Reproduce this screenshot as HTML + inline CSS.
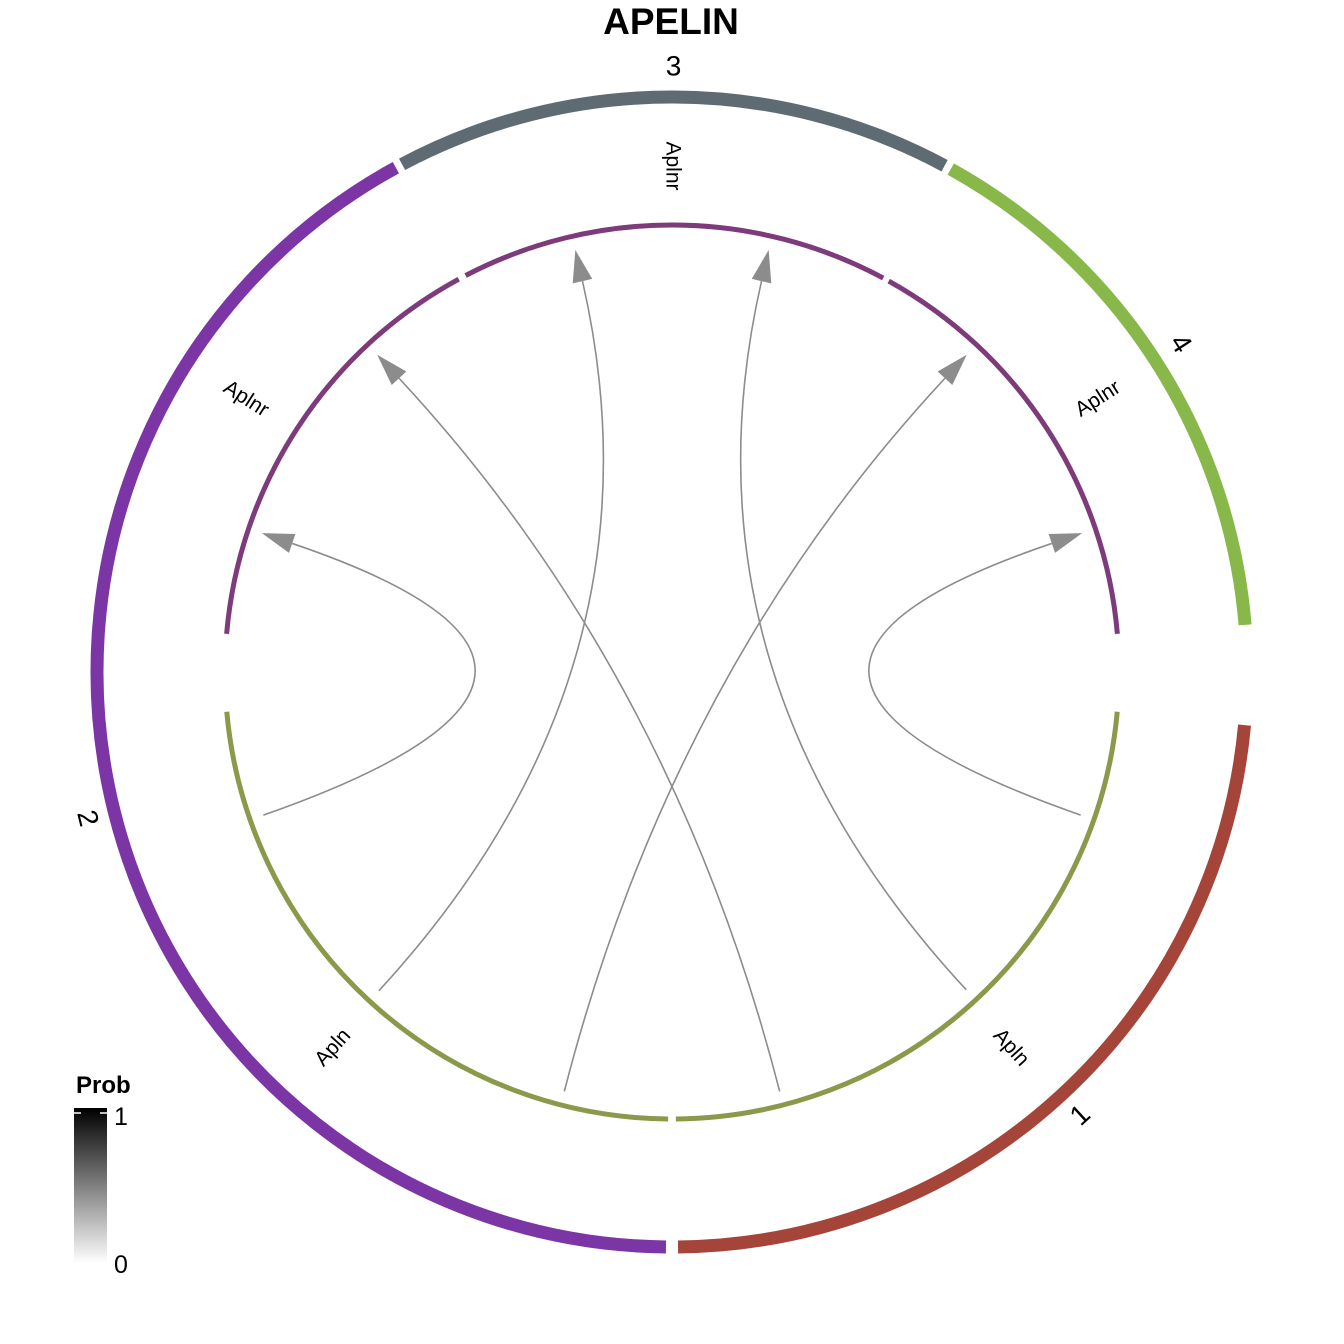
<!DOCTYPE html>
<html><head><meta charset="utf-8"><style>
body{margin:0;background:#fff}
svg{display:block;font-family:"Liberation Sans",sans-serif}
</style></head><body>
<svg id="chart" width="1344" height="1344" viewBox="0 0 1344 1344">
<defs>
<linearGradient id="pg" x1="0" y1="1" x2="0" y2="0">
<stop offset="0" stop-color="#fff"/><stop offset="1" stop-color="#000"/></linearGradient>
</defs>
<text x="671" y="34" text-anchor="middle" font-size="37" font-weight="bold">APELIN</text>
<g id="outer"></g><g id="inner"></g><g id="links"></g><g id="labels"></g>
<g>
<text x="76" y="1093" font-size="24" font-weight="bold">Prob</text>
<rect x="74" y="1108" width="33" height="155" fill="url(#pg)"/>
<line x1="74" y1="1113" x2="81" y2="1113" stroke="#fff" stroke-width="1.5"/>
<line x1="100" y1="1113" x2="107" y2="1113" stroke="#fff" stroke-width="1.5"/>
<text x="114" y="1125" font-size="25">1</text>
<text x="114" y="1273" font-size="25">0</text>
</g>
</svg>
<script>
const sectorNames=["1","2","3","4"];
const sectorStart=[95.3,180.6,332,29];
const sectorEnd=[179.4,331.3,388.3,85.3];
const sectorColors=["#A5453A","#7B35A5","#5F6B73","#88B84A"];
const innerStart=[95.1,180.5,274.9,332.5,389];
const innerEnd=[179.5,264.9,331.5,388.2,445.1];
const innerColors=["#8A9A4A","#8A9A4A","#7D3B7B","#7D3B7B","#7D3B7B"];
const linkFrom=[250.7,222.6,194.4,165.6,137.2,109.3];
const linkTo=[288.7,347.1,42.9,317.1,12.9,71.3];
const linkProb=[0.45,0.45,0.45,0.45,0.45,0.45];
const geneLabels=["Aplnr","Aplnr","Aplnr","Apln","Apln"];
const geneAngles=[0,302.6,57.4,222,138];
const cx=672,cy=672,R_OUT=575,R_IN=447,R_LINK=433,R_GENE=506,R_SEC=604;
const NS="http://www.w3.org/2000/svg";
function pt(a,r){const t=a*Math.PI/180;return[cx+r*Math.sin(t),cy-r*Math.cos(t)];}
function arc(a0,a1,r){const p=pt(a0,r),q=pt(a1,r);const l=(a1-a0)>180?1:0;return `M${p[0]},${p[1]} A${r},${r} 0 ${l} 1 ${q[0]},${q[1]}`;}
function mk(tag,parent,attrs){const e=document.createElementNS(NS,tag);for(const k in attrs)e.setAttribute(k,attrs[k]);document.getElementById(parent).appendChild(e);return e;}
sectorNames.forEach((n,i)=>{
 const e=mk('path','outer',{d:arc(sectorStart[i],sectorEnd[i],R_OUT),stroke:sectorColors[i],'stroke-width':13,fill:'none'});
 
 
 let m=(sectorStart[i]+sectorEnd[i])/2; m=((m%360)+360)%360;
 const p=pt(m,R_SEC);
 const rot=(m>90&&m<270)?m+180:m;
 const t=mk('text','labels',{x:p[0],y:p[1],'text-anchor':'middle','dominant-baseline':'middle','font-size':28,transform:`rotate(${rot} ${p[0]} ${p[1]})`});
 t.textContent=n;
 
 
});
innerStart.forEach((s,i)=>{
 const e=mk('path','inner',{d:arc(s,innerEnd[i],R_IN),stroke:innerColors[i],'stroke-width':5,fill:'none'});
 
 
});
function gray(p){const v=Math.round(255*(1-p));return `rgb(${v},${v},${v})`;}
linkFrom.forEach((a,i)=>{
 const s=pt(a,R_LINK),tip=pt(linkTo[i],R_LINK),base=pt(linkTo[i],R_LINK-32);
 const c=gray(linkProb[i]);
 const e=mk('path','links',{d:`M${s[0]},${s[1]} Q${cx},${cy} ${base[0]},${base[1]}`,stroke:c,'stroke-width':1.6,fill:'none'});
 
 
 const dx=(tip[0]-base[0])/32,dy=(tip[1]-base[1])/32;
 const w=[base[0]-dy*10,base[1]+dx*10],w2=[base[0]+dy*10,base[1]-dx*10];
 const h=mk('polygon','links',{points:`${tip[0]},${tip[1]} ${w[0]},${w[1]} ${w2[0]},${w2[1]}`,fill:c});
 
 
});
geneLabels.forEach((g,i)=>{
 const a=geneAngles[i],p=pt(a,R_GENE);
 let rot=(a<180)?a-90:a-270;
 if(a===0) rot=90;
 const t=mk('text','labels',{x:p[0],y:p[1],'text-anchor':'middle','dominant-baseline':'middle','font-size':21,transform:`rotate(${rot} ${p[0]} ${p[1]})`});
 t.textContent=g;
 
 
});
</script>
</body></html>
